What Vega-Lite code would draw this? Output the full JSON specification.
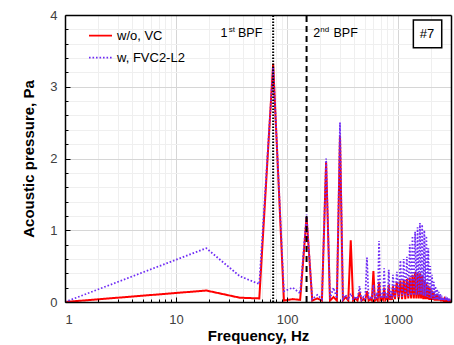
{
  "$schema": "https://vega.github.io/schema/vega-lite/v6.json",
  "width": 386,
  "height": 287,
  "autosize": {"type": "none"},
  "padding": {"left": 65, "top": 15, "right": 3, "bottom": 43},
  "background": "white",
  "config": {
    "view": {"stroke": null},
    "font": "Liberation Sans",
    "axis": {"labelFont": "Liberation Sans", "labelFontSize": 13, "labelColor": "#404040", "titleFont": "Liberation Sans", "titleFontSize": 15, "titleFontWeight": "bold", "titleColor": "#000000"}
  },
  "data": {"values": [
    {"f": 1, "wo": 0, "w": 0},
    {"f": 18.75, "wo": 0.16, "w": 0.75},
    {"f": 37.5, "wo": 0.06, "w": 0.36},
    {"f": 56.25, "wo": 0.05, "w": 0.25},
    {"f": 75, "wo": 3.32, "w": 3.28},
    {"f": 93.75, "wo": 0.02, "w": 0.15},
    {"f": 112.5, "wo": 0.04, "w": 0.2},
    {"f": 131.25, "wo": 0.03, "w": 0.12},
    {"f": 150, "wo": 1.18, "w": 1.22},
    {"f": 168.75, "wo": 0.02, "w": 0.04},
    {"f": 187.5, "wo": 0.05, "w": 0.1},
    {"f": 206.25, "wo": 0.02, "w": 0.04},
    {"f": 225, "wo": 1.95, "w": 2.0},
    {"f": 243.75, "wo": 0.02, "w": 0.05},
    {"f": 262.5, "wo": 0.07, "w": 0.2},
    {"f": 281.25, "wo": 0.02, "w": 0.05},
    {"f": 300, "wo": 2.32, "w": 2.5},
    {"f": 318.75, "wo": 0.02, "w": 0.04},
    {"f": 337.5, "wo": 0.07, "w": 0.1},
    {"f": 356.25, "wo": 0.02, "w": 0.03},
    {"f": 375, "wo": 0.86, "w": 0.12},
    {"f": 393.75, "wo": 0.02, "w": 0.03},
    {"f": 412.5, "wo": 0.05, "w": 0.08},
    {"f": 431.25, "wo": 0.02, "w": 0.04},
    {"f": 450, "wo": 0.14, "w": 0.22},
    {"f": 468.75, "wo": 0.02, "w": 0.03},
    {"f": 487.5, "wo": 0.04, "w": 0.07},
    {"f": 506.25, "wo": 0.02, "w": 0.04},
    {"f": 525, "wo": 0.15, "w": 0.62},
    {"f": 543.75, "wo": 0.02, "w": 0.04},
    {"f": 562.5, "wo": 0.04, "w": 0.08},
    {"f": 581.25, "wo": 0.02, "w": 0.04},
    {"f": 600, "wo": 0.43, "w": 0.24},
    {"f": 618.75, "wo": 0.02, "w": 0.04},
    {"f": 637.5, "wo": 0.05, "w": 0.1},
    {"f": 656.25, "wo": 0.02, "w": 0.04},
    {"f": 675, "wo": 0.28, "w": 0.85},
    {"f": 693.75, "wo": 0.03, "w": 0.05},
    {"f": 712.5, "wo": 0.05, "w": 0.12},
    {"f": 731.25, "wo": 0.03, "w": 0.05},
    {"f": 750, "wo": 0.2, "w": 0.47},
    {"f": 768.75, "wo": 0.03, "w": 0.05},
    {"f": 787.5, "wo": 0.06, "w": 0.12},
    {"f": 806.25, "wo": 0.03, "w": 0.05},
    {"f": 825, "wo": 0.24, "w": 0.45},
    {"f": 843.75, "wo": 0.03, "w": 0.05},
    {"f": 862.5, "wo": 0.07, "w": 0.15},
    {"f": 881.25, "wo": 0.03, "w": 0.05},
    {"f": 900, "wo": 0.22, "w": 0.38},
    {"f": 937.5, "wo": 0.04, "w": 0.06},
    {"f": 975, "wo": 0.28, "w": 0.42},
    {"f": 1012.5, "wo": 0.04, "w": 0.07},
    {"f": 1050, "wo": 0.3, "w": 0.58},
    {"f": 1087.5, "wo": 0.04, "w": 0.07},
    {"f": 1125, "wo": 0.31, "w": 0.6},
    {"f": 1162.5, "wo": 0.04, "w": 0.08},
    {"f": 1200, "wo": 0.32, "w": 0.63},
    {"f": 1237.5, "wo": 0.05, "w": 0.08},
    {"f": 1275, "wo": 0.34, "w": 0.8},
    {"f": 1312.5, "wo": 0.05, "w": 0.09},
    {"f": 1350, "wo": 0.38, "w": 0.92},
    {"f": 1387.5, "wo": 0.05, "w": 0.09},
    {"f": 1425, "wo": 0.42, "w": 0.98},
    {"f": 1462.5, "wo": 0.05, "w": 0.1},
    {"f": 1500, "wo": 0.41, "w": 1.04},
    {"f": 1537.5, "wo": 0.05, "w": 0.1},
    {"f": 1575, "wo": 0.4, "w": 1.1},
    {"f": 1612.5, "wo": 0.05, "w": 0.1},
    {"f": 1650, "wo": 0.36, "w": 1.08},
    {"f": 1687.5, "wo": 0.04, "w": 0.09},
    {"f": 1725, "wo": 0.31, "w": 1.0},
    {"f": 1762.5, "wo": 0.04, "w": 0.08},
    {"f": 1800, "wo": 0.27, "w": 0.92},
    {"f": 1837.5, "wo": 0.04, "w": 0.07},
    {"f": 1875, "wo": 0.23, "w": 0.75},
    {"f": 1912.5, "wo": 0.03, "w": 0.06},
    {"f": 1950, "wo": 0.19, "w": 0.5},
    {"f": 1987.5, "wo": 0.03, "w": 0.05},
    {"f": 2025, "wo": 0.16, "w": 0.38},
    {"f": 2062.5, "wo": 0.03, "w": 0.04},
    {"f": 2100, "wo": 0.13, "w": 0.28},
    {"f": 2137.5, "wo": 0.02, "w": 0.04},
    {"f": 2175, "wo": 0.11, "w": 0.22},
    {"f": 2212.5, "wo": 0.02, "w": 0.03},
    {"f": 2250, "wo": 0.1, "w": 0.18},
    {"f": 2287.5, "wo": 0.02, "w": 0.03},
    {"f": 2325, "wo": 0.08, "w": 0.14},
    {"f": 2362.5, "wo": 0.02, "w": 0.03},
    {"f": 2400, "wo": 0.07, "w": 0.11},
    {"f": 2437.5, "wo": 0.01, "w": 0.02},
    {"f": 2475, "wo": 0.06, "w": 0.09},
    {"f": 2512.5, "wo": 0.01, "w": 0.02},
    {"f": 2550, "wo": 0.05, "w": 0.07},
    {"f": 2587.5, "wo": 0.01, "w": 0.02},
    {"f": 2625, "wo": 0.04, "w": 0.06},
    {"f": 2662.5, "wo": 0.01, "w": 0.02},
    {"f": 2700, "wo": 0.03, "w": 0.05},
    {"f": 2737.5, "wo": 0.01, "w": 0.02},
    {"f": 2775, "wo": 0.03, "w": 0.04},
    {"f": 2812.5, "wo": 0.01, "w": 0.01},
    {"f": 2850, "wo": 0.02, "w": 0.03},
    {"f": 2887.5, "wo": 0.01, "w": 0.01},
    {"f": 2925, "wo": 0.02, "w": 0.03},
    {"f": 2962.5, "wo": 0.01, "w": 0.01},
    {"f": 3000, "wo": 0.02, "w": 0.02}
  ]},
  "resolve": {"axis": {"x": "independent", "y": "independent"}},
  "layer": [
    {
      "mark": {"type": "line", "strokeWidth": 2, "clip": true},
      "encoding": {
        "x": {"field": "f", "type": "quantitative", "scale": {"type": "log", "domain": [1, 3000], "nice": false},
          "axis": {"orient": "bottom", "values": [2,3,4,5,6,7,8,9,20,30,40,50,60,70,80,90,200,300,400,500,600,700,800,900,2000,3000], "grid": true, "gridColor": "#efefef", "gridWidth": 1, "labels": false, "ticks": false, "domain": false, "title": null, "zindex": 0}},
        "y": {"field": "wo", "type": "quantitative", "scale": {"domain": [0, 4], "nice": false},
          "axis": {"orient": "left", "values": [0.2,0.4,0.6,0.8,1.2,1.4,1.6,1.8,2.2,2.4,2.6,2.8,3.2,3.4,3.6,3.8], "grid": true, "gridColor": "#efefef", "gridWidth": 1, "labels": false, "ticks": false, "domain": false, "title": null, "zindex": 0}},
        "color": {"datum": "w/o, VC", "type": "nominal", "scale": {"domain": ["w/o, VC", "w, FVC2-L2"], "range": ["#ff0000", "#6f2cf5"]},
          "legend": {"orient": "none", "legendX": 23, "legendY": 8, "title": null, "symbolType": "stroke", "symbolSize": 529, "symbolStrokeWidth": 1.75, "labelFontSize": 13, "labelColor": "#000000", "labelFont": "Liberation Sans", "labelOffset": 4, "rowPadding": 2, "padding": 0}},
        "strokeDash": {"datum": "w/o, VC", "type": "nominal", "scale": {"domain": ["w/o, VC", "w, FVC2-L2"], "range": [[1, 0], [1.6, 1.9]]},
          "legend": {"orient": "none", "legendX": 23, "legendY": 8, "title": null, "symbolType": "stroke", "symbolSize": 529, "symbolStrokeWidth": 1.75, "labelFontSize": 13, "labelColor": "#000000", "labelFont": "Liberation Sans", "labelOffset": 4, "rowPadding": 2, "padding": 0}}
      }
    },
    {
      "mark": {"type": "line", "strokeWidth": 1.75, "clip": true},
      "encoding": {
        "x": {"field": "f", "type": "quantitative",
          "axis": {"orient": "bottom", "values": [10, 100, 1000], "grid": true, "gridColor": "#d6d6d6", "gridWidth": 1, "labels": false, "ticks": false, "domain": false, "title": null, "zindex": 0}},
        "y": {"field": "w", "type": "quantitative",
          "axis": {"orient": "left", "values": [1, 2, 3], "grid": true, "gridColor": "#d6d6d6", "gridWidth": 1, "labels": false, "ticks": false, "domain": false, "title": null, "zindex": 0}},
        "color": {"datum": "w, FVC2-L2", "type": "nominal"},
        "strokeDash": {"datum": "w, FVC2-L2", "type": "nominal"}
      }
    },
    {
      "data": {"values": [{"f": 75, "lo": 0, "hi": 4}]},
      "mark": {"type": "rule", "color": "#000000", "strokeWidth": 2, "strokeDash": [1.5, 1.5]},
      "encoding": {
        "x": {"field": "f", "type": "quantitative",
          "axis": {"orient": "bottom", "values": [2,3,4,5,6,7,8,9,20,30,40,50,60,70,80,90,200,300,400,500,600,700,800,900,2000,3000], "grid": false, "labels": false, "ticks": true, "tickSize": -3, "tickColor": "#000000", "tickWidth": 1, "domain": false, "title": null, "zindex": 1}},
        "y": {"field": "lo", "type": "quantitative",
          "axis": {"orient": "left", "values": [0.2,0.4,0.6,0.8,1.2,1.4,1.6,1.8,2.2,2.4,2.6,2.8,3.2,3.4,3.6,3.8], "grid": false, "labels": false, "ticks": true, "tickSize": -3, "tickColor": "#000000", "tickWidth": 1, "domain": false, "title": null, "zindex": 1}},
        "y2": {"field": "hi"}
      }
    },
    {
      "data": {"values": [{"f": 150, "lo": 0, "hi": 4}]},
      "mark": {"type": "rule", "color": "#000000", "strokeWidth": 2, "strokeDash": [6, 4]},
      "encoding": {
        "x": {"field": "f", "type": "quantitative",
          "axis": {"orient": "bottom", "values": [1, 10, 100, 1000], "format": "d", "grid": false, "labels": true, "labelPadding": 16, "ticks": true, "tickSize": -5, "tickColor": "#000000", "tickWidth": 1, "domain": true, "domainColor": "#000000", "domainWidth": 1.5, "title": "Frequency, Hz", "titlePadding": 2, "zindex": 1}},
        "y": {"field": "lo", "type": "quantitative",
          "axis": {"orient": "left", "values": [0, 1, 2, 3, 4], "format": "d", "grid": false, "labels": true, "labelPadding": 13, "ticks": true, "tickSize": -5, "tickColor": "#000000", "tickWidth": 1, "domain": true, "domainColor": "#000000", "domainWidth": 1.5, "title": "Acoustic pressure, Pa", "titlePadding": 13, "zindex": 1}},
        "y2": {"field": "hi"}
      }
    },
    {
      "data": {"values": [{"x": 1374, "x2": 2475, "y": 3.544, "y2": 3.93}]},
      "mark": {"type": "rect", "fill": "#ffffff", "stroke": "#000000", "strokeWidth": 1.5},
      "encoding": {
        "x": {"field": "x", "type": "quantitative", "axis": null},
        "x2": {"field": "x2"},
        "y": {"field": "y", "type": "quantitative", "axis": null},
        "y2": {"field": "y2"}
      }
    },
    {
      "data": {"values": [{"x": 1824, "y": 3.74, "t": "#7"}]},
      "mark": {"type": "text", "align": "center", "baseline": "middle", "fontSize": 13, "font": "Liberation Sans", "color": "#000000"},
      "encoding": {
        "x": {"field": "x", "type": "quantitative", "axis": null},
        "y": {"field": "y", "type": "quantitative", "axis": null},
        "text": {"field": "t"}
      }
    },
    {
      "data": {"values": [
        {"x": 25.2, "y": 3.69, "t": "1"},
        {"x": 36.2, "y": 3.69, "t": "BPF"},
        {"x": 172.5, "y": 3.69, "t": "2"},
        {"x": 262, "y": 3.69, "t": "BPF"}
      ]},
      "mark": {"type": "text", "align": "left", "baseline": "alphabetic", "fontSize": 12.5, "font": "Liberation Sans", "color": "#000000"},
      "encoding": {
        "x": {"field": "x", "type": "quantitative", "axis": null},
        "y": {"field": "y", "type": "quantitative", "axis": null},
        "text": {"field": "t"}
      }
    },
    {
      "data": {"values": [
        {"x": 29.9, "y": 3.77, "t": "st"},
        {"x": 199, "y": 3.77, "t": "nd"}
      ]},
      "mark": {"type": "text", "align": "left", "baseline": "alphabetic", "fontSize": 8, "font": "Liberation Sans", "color": "#000000"},
      "encoding": {
        "x": {"field": "x", "type": "quantitative",
          "axis": {"orient": "top", "grid": false, "labels": false, "ticks": false, "domain": true, "domainColor": "#000000", "domainWidth": 1.5, "title": null, "zindex": 1}},
        "y": {"field": "y", "type": "quantitative",
          "axis": {"orient": "right", "grid": false, "labels": false, "ticks": false, "domain": true, "domainColor": "#000000", "domainWidth": 1.5, "title": null, "zindex": 1}},
        "text": {"field": "t"}
      }
    }
  ]
}
